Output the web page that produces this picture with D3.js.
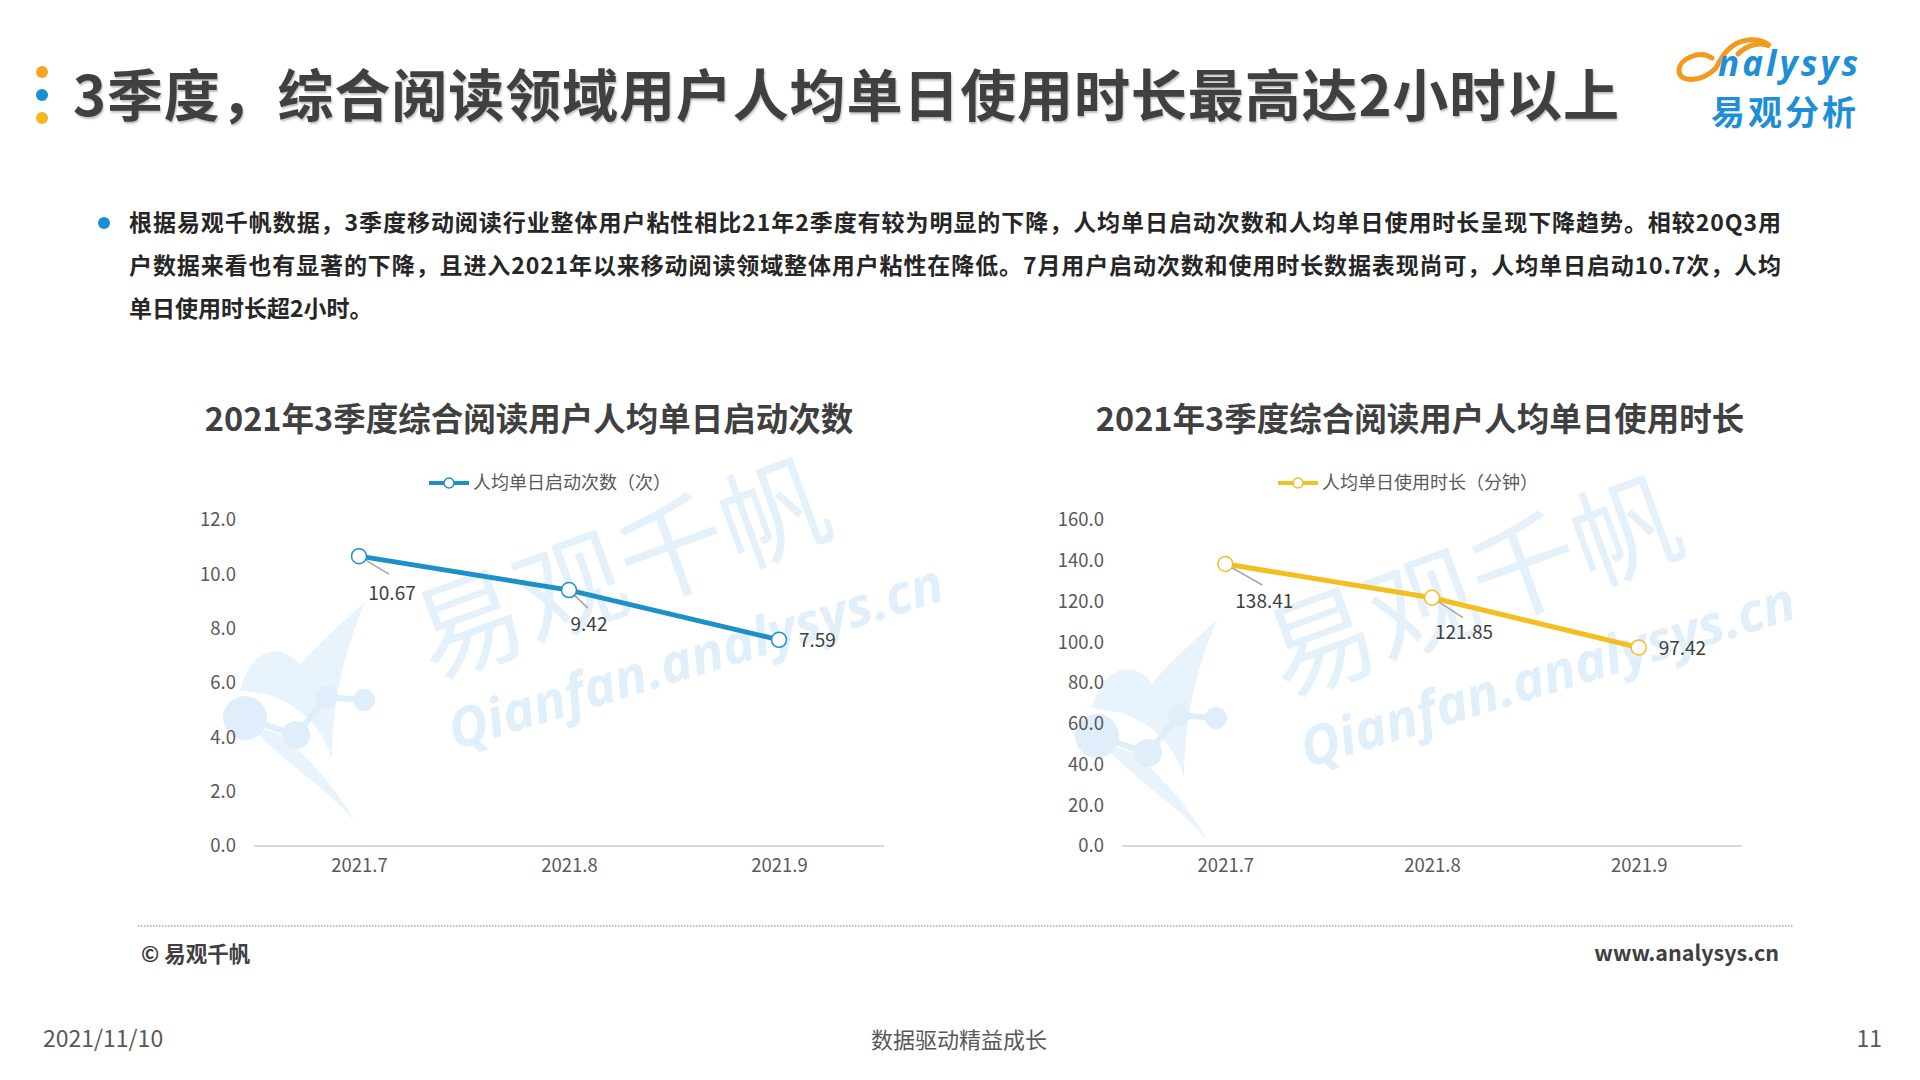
<!DOCTYPE html>
<html><head><meta charset="utf-8">
<script src="https://cdn.jsdelivr.net/npm/d3@7/dist/d3.min.js"></script>
<style>
html,body{margin:0;padding:0;background:#fff;}
svg{display:block;font-family:"Noto Sans CJK SC","Noto Sans",sans-serif;}
</style></head>
<body>
<svg id="c" width="1920" height="1080"></svg>
<script>
// ---- data ----
const months = ["2021.7", "2021.8", "2021.9"];
const launches = [10.67, 9.42, 7.59];          // 人均单日启动次数（次）
const minutes = [138.41, 121.85, 97.42];       // 人均单日使用时长（分钟）
const launchTicks = [0, 2, 4, 6, 8, 10, 12];
const minuteTicks = [0, 20, 40, 60, 80, 100, 120, 140, 160];
const pageTitle = "3季度，综合阅读领域用户人均单日使用时长最高达2小时以上";
const chartTitles = ["2021年3季度综合阅读用户人均单日启动次数", "2021年3季度综合阅读用户人均单日使用时长"];
const legendNames = ["人均单日启动次数（次）", "人均单日使用时长（分钟）"];
const bodyLines = [
  "根据易观千帆数据，3季度移动阅读行业整体用户粘性相比21年2季度有较为明显的下降，人均单日启动次数和人均单日使用时长呈现下降趋势。相较20Q3用",
  "户数据来看也有显著的下降，且进入2021年以来移动阅读领域整体用户粘性在降低。7月用户启动次数和使用时长数据表现尚可，人均单日启动10.7次，人均",
  "单日使用时长超2小时。"
];

const svg = d3.select("#c");
const dark = "#404040", gray = "#595959";

// ---- watermark ----
function watermark(dx, dy) {
  const g = svg.append("g").attr("transform", `translate(${dx},${dy})`);
  g.append("text").attr("transform", "translate(432,680) rotate(-20)").attr("font-size", 108)
    .attr("fill", "#e4f1fa").text("易观千帆");
  g.append("text").attr("transform", "translate(455,750) rotate(-17)").attr("font-size", 54)
    .attr("font-weight", 700).attr("font-style", "italic").attr("font-family", "Open Sans, sans-serif")
    .attr("fill", "#e0effa").text("Qianfan.analysys.cn");
  g.append("path").attr("d", "M240,690 C250,650 280,640 300,665 C322,640 345,620 365,602 C345,650 332,700 332,760 C325,730 300,705 270,695 Z")
    .attr("fill", "#e8f3fb");
  g.append("path").attr("d", "M250,725 C285,765 330,790 355,822 C335,785 305,755 282,735 Z")
    .attr("fill", "#e8f3fb");
  [[245, 718, 22], [296, 735, 14], [327, 697, 11], [364, 700, 11]].forEach(([x, y, r]) =>
    g.append("circle").attr("cx", x).attr("cy", y).attr("r", r).attr("fill", "#dfeefa"));
  g.append("path").attr("d", "M245,718 L296,735 L327,697 L364,700").attr("fill", "none")
    .attr("stroke", "#dfeefa").attr("stroke-width", 6);
}
watermark(0, 0);
watermark(852, 18);

// ---- header ----
[["#f5a623", 72], ["#1a8fd4", 95], ["#f5b51e", 118]].forEach(([c, y]) =>
  svg.append("circle").attr("cx", 42).attr("cy", y).attr("r", 6).attr("fill", c));
svg.append("text").attr("x", 73).attr("y", 116).attr("font-size", 56).attr("font-weight", 700)
  .attr("fill", dark).attr("textLength", 1546).attr("lengthAdjust", "spacing")
  .style("text-shadow", "1px 2px 2px rgba(0,0,0,0.25)").text(pageTitle);

// logo
const logo = svg.append("g");
logo.append("path").attr("d", "M1712,58 C1700,50 1680,58 1679,70 C1678,82 1700,84 1716,68 C1722,56 1730,42 1748,40 C1758,39 1766,42 1770,46 C1760,42 1748,44 1738,54")
  .attr("fill", "none").attr("stroke", "#f39a1c").attr("stroke-width", 5).attr("stroke-linecap", "round");
logo.append("text").attr("x", 1718).attr("y", 76).attr("font-size", 35).attr("font-weight", 700)
  .attr("font-style", "italic").attr("fill", "#1e8fd6").attr("font-family", "Open Sans, sans-serif")
  .attr("textLength", 140).attr("lengthAdjust", "spacing").text("nalysys");
logo.append("text").attr("x", 1711).attr("y", 125).attr("font-size", 34).attr("font-weight", 700)
  .attr("fill", "#1e8fd6").attr("textLength", 145).attr("lengthAdjust", "spacing").text("易观分析");

// ---- body paragraph ----
svg.append("circle").attr("cx", 104).attr("cy", 223).attr("r", 6).attr("fill", "#1a8fd4");
bodyLines.forEach((t, i) => {
  const tx = svg.append("text").attr("x", 129).attr("y", 231 + i * 43).attr("font-size", 23)
    .attr("font-weight", 700).attr("fill", "#262626").text(t);
  if (i < 2) tx.attr("textLength", 1652).attr("lengthAdjust", "spacing");
});

// ---- charts ----
function lineChart(o) {
  const x = d3.scalePoint().domain(months).range(o.xr).padding(0.5);
  const y = d3.scaleLinear().domain([0, o.ticks[o.ticks.length - 1]]).range([846, 520]);
  const g = svg.append("g");
  // title
  g.append("text").attr("x", o.titleX).attr("y", 431).attr("text-anchor", "middle")
    .attr("font-size", 32.5).attr("font-weight", 700).attr("fill", dark).text(o.title);
  // legend
  const lx = o.legendX;
  g.append("line").attr("x1", lx).attr("x2", lx + 40).attr("y1", 483).attr("y2", 483)
    .attr("stroke", o.color).attr("stroke-width", 4);
  g.append("circle").attr("cx", lx + 20).attr("cy", 483).attr("r", 5).attr("fill", "#fff")
    .attr("stroke", o.color).attr("stroke-width", 1.5);
  g.append("text").attr("x", lx + 44).attr("y", 489).attr("font-size", 18).attr("fill", gray).text(o.legend);
  // y axis
  const ya = g.append("g").attr("transform", `translate(${o.xr[0] - 18},0)`)
    .call(d3.axisLeft(y).tickValues(o.ticks).tickFormat(d3.format(".1f")).tickSize(0).tickPadding(0));
  ya.select(".domain").remove();
  ya.selectAll("text").attr("font-size", 18.5).attr("fill", gray).attr("font-family", "Noto Sans CJK SC, sans-serif");
  // x axis
  const xa = g.append("g").attr("transform", "translate(0,846)")
    .call(d3.axisBottom(x).tickSize(0).tickPadding(13));
  xa.select(".domain").attr("stroke", "#d9d9d9").attr("stroke-width", 2)
    .attr("d", `M${o.xr[0]},0H${o.xr[1]}`);
  xa.selectAll("text").attr("font-size", 18.5).attr("fill", gray).attr("font-family", "Noto Sans CJK SC, sans-serif");
  // line
  g.append("path").datum(o.values).attr("fill", "none").attr("stroke", o.color).attr("stroke-width", 5)
    .attr("d", d3.line().x((d, i) => x(months[i])).y(d => y(d)));
  // leader lines + labels
  o.values.forEach((v, i) => {
    const px = x(months[i]), py = y(v), lo = o.labelOff[i];
    if (lo.lead) g.append("line").attr("x1", px).attr("y1", py).attr("x2", px + lo.lead[0]).attr("y2", py + lo.lead[1])
      .attr("stroke", "#a6a6a6").attr("stroke-width", 1.5);
    g.append("text").attr("x", px + lo.dx).attr("y", py + lo.dy).attr("text-anchor", lo.anchor)
      .attr("font-size", 19).attr("fill", dark).text(v.toFixed(2));
  });
  g.selectAll(".pt").data(o.values).enter().append("circle").attr("class", "pt")
    .attr("cx", (d, i) => x(months[i])).attr("cy", d => y(d)).attr("r", 7.5)
    .attr("fill", "#fff").attr("stroke", o.color).attr("stroke-width", 1.5);
}

lineChart({
  xr: [254, 884], ticks: launchTicks, values: launches, color: "#1e90c8",
  title: chartTitles[0], titleX: 529, legend: legendNames[0], legendX: 429,
  labelOff: [{dx: 33, dy: 44, anchor: "middle", lead: [30, 18]},
             {dx: 20, dy: 41, anchor: "middle", lead: [19, 18]},
             {dx: 20, dy: 7, anchor: "start"}]
});
lineChart({
  xr: [1122, 1742], ticks: minuteTicks, values: minutes, color: "#f2bf1f",
  title: chartTitles[1], titleX: 1420, legend: legendNames[1], legendX: 1278,
  labelOff: [{dx: 39, dy: 44, anchor: "middle", lead: [37, 21]},
             {dx: 32, dy: 41, anchor: "middle", lead: [31, 20]},
             {dx: 20, dy: 7, anchor: "start"}]
});

// ---- footer ----
svg.append("line").attr("x1", 138).attr("x2", 1794).attr("y1", 926).attr("y2", 926)
  .attr("stroke", "#a6a6a6").attr("stroke-width", 1.5).attr("stroke-dasharray", "1.5,1.5");
svg.append("text").attr("x", 141).attr("y", 962).attr("font-size", 21.5).attr("font-weight", 700)
  .attr("fill", dark).text("© 易观千帆");
svg.append("text").attr("x", 1779).attr("y", 961).attr("text-anchor", "end").attr("font-size", 21.5)
  .attr("font-weight", 700).attr("fill", dark).text("www.analysys.cn");
svg.append("text").attr("x", 43).attr("y", 1047).attr("font-size", 23).attr("fill", gray).text("2021/11/10");
svg.append("text").attr("x", 959).attr("y", 1048).attr("text-anchor", "middle").attr("font-size", 22).attr("fill", gray).text("数据驱动精益成长");
svg.append("text").attr("x", 1882).attr("y", 1047).attr("text-anchor", "end").attr("font-size", 23).attr("fill", gray).text("11");
</script>
</body></html>
